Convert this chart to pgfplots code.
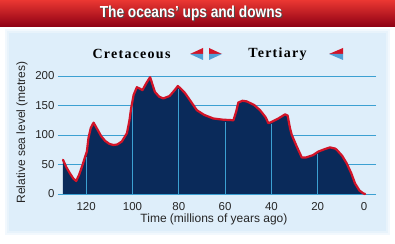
\documentclass[border=0pt]{standalone}
\usepackage{pgfplots}
\pgfplotsset{compat=1.18}
\usepackage{fontspec}
\setmainfont{Liberation Sans}
\newfontfamily\serifbold[LetterSpace=9]{Liberation Serif Bold}
\definecolor{navy}{RGB}{10,42,90}
\definecolor{curvered}{RGB}{210,20,40}
\definecolor{gridcyan}{RGB}{60,160,210}
\definecolor{panel}{RGB}{222,238,250}
\definecolor{bannerA}{RGB}{235,55,50}
\definecolor{bannerB}{RGB}{200,20,30}
\definecolor{bannerC}{RGB}{140,0,20}
\definecolor{tribl}{RGB}{80,160,215}
\begin{document}
\begin{tikzpicture}[x=1pt,y=1pt]
\useasboundingbox (0,0) rectangle (395,243);
\fill[white] (0,0) rectangle (395,243);
% soft panel
\fill[panel!40] (5,8) rectangle (390,214);
\fill[panel!70] (7,10) rectangle (388,212);
\fill[panel] (9,12) rectangle (386,210);
% banner
\shade[top color=bannerA, middle color=bannerB, bottom color=bannerC] (0,216) rectangle (395,243);
\node[text=black!70, font=\bfseries\fontsize{16}{18}\selectfont] at (192,228.5) {\scalebox{0.855}[1]{The oceans' ups and downs}};
\node[text=white, font=\bfseries\fontsize{16}{18}\selectfont] at (191,229.5) {\scalebox{0.855}[1]{The oceans' ups and downs}};
\begin{axis}[
  at={(63pt,49pt)}, anchor=south west,
  scale only axis, width=308pt, height=118pt,
  x dir=reverse, xmin=-3, xmax=130, ymin=0, ymax=200,
  axis line style={draw=none},
  xtick={0,20,...,120}, ytick={0,50,...,200},
  ymajorgrids, grid style={gridcyan, line width=0.9pt},
  tick align=outside, major tick length=5pt,
  ytick style={gridcyan, line width=0.9pt},
  xtick style={draw=none},
  tick label style={font=\fontsize{11.5}{13}\selectfont, text=black!85},
  /pgf/number format/assume math mode=true,
  xlabel={Time (millions of years ago)},
  ylabel={Relative sea level (metres)},
  label style={font=\fontsize{12}{14}\selectfont, text=black!85},
  xlabel style={at={(axis description cs:0.49,-0.212)}, anchor=center},
  ylabel style={at={(axis description cs:-0.133,0.52)}, anchor=center},
  clip=false,
]
\addplot[fill=navy, draw=none] coordinates {
(130,58) (128.5,45) (127,35) (125.5,26) (124.3,22) (123,33) (121.5,50) (120.3,65) (119.7,72)
(119,95) (118,112) (116.8,121) (115.5,112) (113.5,98) (111.8,90) (110,85) (108.2,83) (106.5,84)
(104.6,89) (102.4,103) (101.3,125) (100.6,145) (99.5,168) (98.1,181) (96.5,178) (95.7,176)
(94,188) (92.4,198) (91.3,185) (90.3,173) (88.5,165) (86.7,162) (84,166) (82,175) (80.4,183)
(79,178) (77.3,171) (75,158) (72.2,142) (69,134) (65.1,128) (61,126) (56.4,125) (55.2,140)
(54.3,155) (52.5,158) (50.7,157) (47.5,151) (44.9,142) (42.5,130) (41.3,120) (40,122) (37,128)
(34.1,135) (33,133) (32,112) (31.2,100) (29,80) (26.9,62) (25,62) (22,66) (19.7,72) (17,76)
(14.7,79) (12.5,77) (11.8,75) (9.5,65) (7.5,52) (5.5,35) (3.9,18) (2,6) (0.3,1) (-0.5,0)
} \closedcycle;
\addplot[ycomb, gridcyan, line width=0.9pt, mark=none] coordinates {
(120,62) (100,150) (80,178) (60,122) (40,118) (20,68)
};
\addplot[curvered, line width=2.2pt, line join=round, line cap=round, mark=none] coordinates {
(130,58) (128.5,45) (127,35) (125.5,26) (124.3,22) (123,33) (121.5,50) (120.3,65) (119.7,72)
(119,95) (118,112) (116.8,121) (115.5,112) (113.5,98) (111.8,90) (110,85) (108.2,83) (106.5,84)
(104.6,89) (102.4,103) (101.3,125) (100.6,145) (99.5,168) (98.1,181) (96.5,178) (95.7,176)
(94,188) (92.4,198) (91.3,185) (90.3,173) (88.5,165) (86.7,162) (84,166) (82,175) (80.4,183)
(79,178) (77.3,171) (75,158) (72.2,142) (69,134) (65.1,128) (61,126) (56.4,125) (55.2,140)
(54.3,155) (52.5,158) (50.7,157) (47.5,151) (44.9,142) (42.5,130) (41.3,120) (40,122) (37,128)
(34.1,135) (33,133) (32,112) (31.2,100) (29,80) (26.9,62) (25,62) (22,66) (19.7,72) (17,76)
(14.7,79) (12.5,77) (11.8,75) (9.5,65) (7.5,52) (5.5,35) (3.9,18) (2,6) (0.3,1) (-0.5,0)
};
\end{axis}
% period labels
\node[font=\serifbold\fontsize{14}{16}\selectfont] at (131.5,189) {Cretaceous};
\node[font=\serifbold\fontsize{14}{16}\selectfont] at (277.5,189) {Tertiary};
% arrows
\fill[curvered] (190,189) -- (203,195) -- (203,189) -- cycle;
\fill[tribl] (190,189) -- (203,183) -- (203,189) -- cycle;
\fill[curvered] (222,189) -- (209,195) -- (209,189) -- cycle;
\fill[tribl] (222,189) -- (209,183) -- (209,189) -- cycle;
\fill[curvered] (329,189) -- (343,195) -- (343,189) -- cycle;
\fill[tribl] (329,189) -- (343,183) -- (343,189) -- cycle;
\end{tikzpicture}
\end{document}
